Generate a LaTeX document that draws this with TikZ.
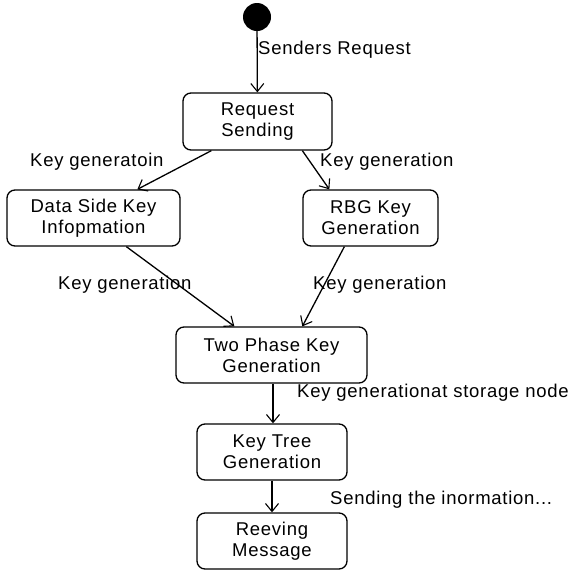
\documentclass[tikz,border=0pt]{standalone}
\usepackage{fontspec}
\setmainfont{Liberation Sans}
\newfontfamily\spacedfont[LetterSpace=4]{Liberation Sans}
\usetikzlibrary{arrows.meta}
\tikzset{
  state/.style={draw, line width=1.3pt, rounded corners=8pt, align=center,
    inner sep=0pt, font=\spacedfont\fontsize{18.5}{21}\selectfont},
  lbl/.style={anchor=west, inner sep=0pt, font=\spacedfont\fontsize{18.5}{21}\selectfont},
  flow/.style={line width=1.3pt, -{Straight Barb[length=8pt,width=13pt,line width=1.1pt]}},
}
\begin{document}
\begin{tikzpicture}[x=1pt,y=-1pt]
\useasboundingbox (0,0) rectangle (576,571);
% initial state
\node[circle, fill=black, minimum size=28pt, inner sep=0pt] (init) at (257,17) {};
% states
\node[state, minimum width=149pt, minimum height=57pt] (req) at (257.5,121.5) {Request\\Sending};
\node[state, minimum width=173pt, minimum height=56pt] (ds) at (93.5,218) {Data Side Key\\Infopmation};
\node[state, minimum width=135pt, minimum height=56pt] (rbg) at (370.5,218) {RBG Key\\Generation};
\node[state, minimum width=191pt, minimum height=56pt] (two) at (271.5,355) {Two Phase Key\\Generation};
\node[state, minimum width=150pt, minimum height=56pt] (tree) at (272,452) {Key Tree\\Generation};
\node[state, minimum width=150pt, minimum height=56pt] (recv) at (272,541) {Reeving\\Message};
% transitions
\draw[flow] (init) -- (req);
\draw[flow] ([xshift=29pt]req.south west) -- ([xshift=131pt]ds.north west);
\draw[flow] ([xshift=120pt]req.south west) -- ([xshift=27pt]rbg.north west);
\draw[flow] ([xshift=120pt]ds.south west) -- ([xshift=59pt]two.north west);
\draw[flow] ([xshift=42pt]rbg.south west) -- ([xshift=127pt]two.north west);
\draw[flow] ([xshift=1.5pt]two.south) -- ([xshift=1pt]tree.north);
\draw[flow] (tree) -- (recv);
% transition labels
\node[lbl] (l0) at (258,50) {Senders Request};
\node[lbl] (l1) at (30,162) {Key generatoin};
\node[lbl] (l2) at (320,162) {Key generation};
\node[lbl] (l3) at (58,285) {Key generation};
\node[lbl] (l4) at (313,285) {Key generation};
\node[lbl] (l5) at (297,393) {Key generationat storage node};
\node[lbl] (l6) at (330,500) {Sending the inormation...};
\end{tikzpicture}
\end{document}
